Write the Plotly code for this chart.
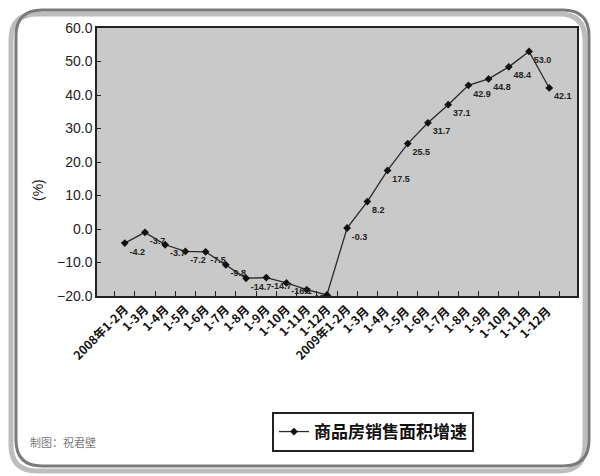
import plotly.graph_objects as go

categories = ["2008年1-2月", "1-3月", "1-4月", "1-5月", "1-6月", "1-7月", "1-8月", "1-9月",
              "1-10月", "1-11月", "1-12月",
              "2009年1-2月", "1-3月 ", "1-4月 ", "1-5月 ", "1-6月 ", "1-7月 ", "1-8月 ", "1-9月 ",
              "1-10月 ", "1-11月 ", "1-12月 "]
values = [-4.2, -1.0, -4.7, -6.7, -6.8, -10.7, -14.7, -14.5, -16.1, -18.1, -19.7,
          0.3, 8.2, 17.5, 25.5, 31.7, 37.1, 42.9, 44.8, 48.4, 53.0, 42.1]
labels = ["-4.2", "-3.7", "-3.7", "-7.2", "-7.5", "-9.8", "-14.7", "-14.7", "-16.1", "-18.3", "-19.7",
          "-0.3", "8.2", "17.5", "25.5", "31.7", "37.1", "42.9", "44.8", "48.4", "53.0", "42.1"]
y_ticks = [-20, -10, 0, 10, 20, 30, 40, 50, 60]

# page offset of the figure (browser body margin)
OX, OY = 8, 8
# pixel geometry of plot area in page coordinates
L, R, T, B = 97, 577, 28, 296
W, H = 600, 476


def px(x):
    return (x - L) / (R - L)


def py(y):
    return (B - y) / (B - T)


def rounded(x0, y0, x1, y1, r):
    return (f"M {px(x0 + r)},{py(y0)} L {px(x1 - r)},{py(y0)} "
            f"Q {px(x1)},{py(y0)} {px(x1)},{py(y0 + r)} L {px(x1)},{py(y1 - r)} "
            f"Q {px(x1)},{py(y1)} {px(x1 - r)},{py(y1)} L {px(x0 + r)},{py(y1)} "
            f"Q {px(x0)},{py(y1)} {px(x0)},{py(y1 - r)} L {px(x0)},{py(y0 + r)} "
            f"Q {px(x0)},{py(y0)} {px(x0 + r)},{py(y0)} Z")


fig = go.Figure()
fig.add_trace(go.Scatter(
    x=categories, y=values, mode="lines+markers+text",
    name="商品房销售面积增速",
    line=dict(color="#2a2a2a", width=1.3),
    marker=dict(symbol="diamond", size=6, color="#111"),
    text=labels, textposition="bottom right",
    textfont=dict(family="Liberation Sans Narrow, Liberation Sans", size=9, color="#222", weight="bold"),
))

fig.update_layout(
    width=W - OX, height=H - OY,
    margin=dict(l=L - OX, r=W - R, t=T - OY, b=H - B),
    paper_bgcolor="white",
    plot_bgcolor="#c9c9c9",
    showlegend=True,
    legend=dict(x=px(272), y=py(412), xanchor="left", yanchor="top",
                bordercolor="#222", borderwidth=2, bgcolor="white",
                font=dict(family="Noto Sans CJK SC", size=17, color="#111", weight="bold"),
                itemwidth=30),
    xaxis=dict(type="category", tickangle=-45, ticks="inside", ticklen=5, tickson="boundaries",
               tickcolor="#222", showline=True, linecolor="#222", linewidth=1.5, mirror=True,
               showgrid=False,
               tickfont=dict(family="Noto Sans CJK SC", size=12, color="#111", weight="bold")),
    yaxis=dict(range=[-20, 60], tickvals=y_ticks, tickformat=".1f", ticks="inside", ticklen=4,
               tickcolor="#222", showline=True, linecolor="#222", linewidth=1.5, mirror=True,
               showgrid=False, zeroline=False,
               tickfont=dict(family="Liberation Sans Narrow, Liberation Sans", size=14, color="#222")),
    shapes=[
        dict(type="path", xref="paper", yref="paper", layer="below",
             path=rounded(11, 14, 585, 471, 26), line=dict(color="#bdbdbd", width=5)),
        dict(type="path", xref="paper", yref="paper", layer="below",
             path=rounded(16, 10, 589, 466, 26), line=dict(color="#7a7a7a", width=3)),
    ],
    annotations=[
        dict(text="(%)", xref="paper", yref="paper", x=px(38), y=py(190),
             xanchor="center", yanchor="middle", showarrow=False, textangle=-90,
             font=dict(family="Liberation Sans Narrow, Liberation Sans", size=14, color="#222")),
        dict(text="制图：祝君壁", xref="paper", yref="paper", x=px(28), y=py(442),
             xanchor="left", yanchor="middle", showarrow=False,
             font=dict(family="Noto Sans CJK SC", size=11, color="#777")),
    ],
)

fig.write_html("out.html")
